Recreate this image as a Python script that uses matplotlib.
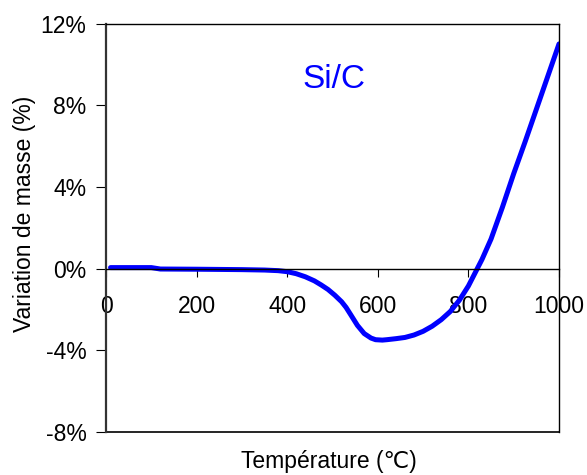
import matplotlib.pyplot as plt
from matplotlib.ticker import FuncFormatter

plt.rcParams['font.family'] = ['Liberation Sans', 'DejaVu Sans']
plt.rcParams['axes.unicode_minus'] = False

# Courbe ATG Si/C : température (°C) et variation de masse (%)
temperature = [10, 50, 100, 120, 200, 300, 350, 380, 400, 420, 440, 460, 475,
               490, 505, 520, 530, 540, 555, 570, 585, 595, 610, 620, 640,
               660, 680, 700, 720, 740, 760, 780, 800, 815, 830, 850, 875,
               900, 925, 950, 975, 1000]
variation = [0.05, 0.05, 0.05, -0.02, -0.03, -0.05, -0.07, -0.1, -0.15, -0.25,
             -0.4, -0.6, -0.8, -1.02, -1.3, -1.62, -1.9, -2.25, -2.78, -3.18,
             -3.4, -3.48, -3.5, -3.48, -3.43, -3.37, -3.25, -3.07, -2.82,
             -2.5, -2.1, -1.55, -0.85, -0.2, 0.45, 1.45, 3.0, 4.65, 6.2,
             7.8, 9.4, 11.0]
xticks = [0, 200, 400, 600, 800, 1000]
yticks = [-8, -4, 0, 4, 8, 12]

fig = plt.figure(figsize=(5.87, 4.75), dpi=100)
ax = fig.add_axes([0.1806, 0.0905, 0.7717, 0.86])

ax.plot(temperature, variation, color='#0000ff', lw=3.6,
        solid_capstyle='round', solid_joinstyle='round')

ax.set_xlim(0, 1000)
ax.set_ylim(-8, 12)
ax.set_xticks(xticks)
ax.set_yticks(yticks)
ax.yaxis.set_major_formatter(FuncFormatter(lambda v, p: f"{v:.0f}%"))

# axe des x sur la ligne zéro, cadre fermé par une ligne en bas
ax.spines['bottom'].set_position(('data', 0))
ax.axhline(-8, color='black', lw=1.2, clip_on=False)
for s in ['left', 'right', 'top', 'bottom']:
    ax.spines[s].set_color('black')
    ax.spines[s].set_linewidth(1.0)
ax.spines['left'].set_color('#333333')
ax.spines['left'].set_linewidth(1.6)

ax.tick_params(axis='x', direction='out', length=6, pad=13, labelsize=16.5)
ax.tick_params(axis='y', direction='out', length=7, pad=7, labelsize=16.5)

ax.text(503, 9.25, 'Si/C', color='#0000ff', fontsize=24, ha='center', va='center')

fig.text(0.561, 0.029, 'Température (℃)', fontsize=16.5, ha='center', va='center')
fig.text(0.041, 0.55, 'Variation de masse (%)', fontsize=16.5, ha='center',
         va='center', rotation=90)

fig.savefig('out.png', dpi=100)
